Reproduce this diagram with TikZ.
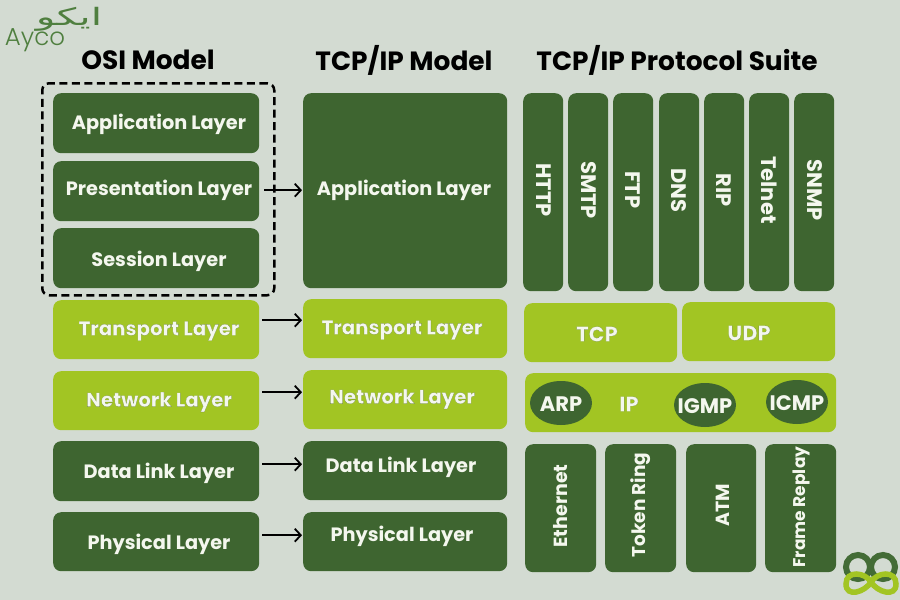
\documentclass[tikz,border=0pt]{standalone}
\usepackage{fontspec}
\setmainfont{Poppins}
\newfontfamily\logofont{Poppins Light}
\newfontfamily\arabicfont[Script=Arabic,FakeStretch=1.7]{DejaVu Sans}
\newfontface\outlfont{Poppins Bold}[FakeBold=0.5]
\TeXXeTstate=1
\usetikzlibrary{arrows.meta,calc}
\definecolor{bgc}{HTML}{D3DBD2}
\definecolor{darkg}{HTML}{3E6530}
\definecolor{lightg}{HTML}{A2C523}
\definecolor{logog}{HTML}{4F7F3F}
\definecolor{txt}{HTML}{F4F7EE}
\newcommand{\outl}[1]{\special{pdf:code 0.40 0.47 0.30 RG}#1}
\tikzset{
  panel/.style={draw=none,inner sep=0pt,rounded corners=8pt},
  darkbox/.style={panel,fill=darkg},
  lightbox/.style={panel,fill=lightg},
  lab/.style={text=txt,font=\bfseries\fontsize{19.3}{22}\selectfont,inner sep=0pt},
  lablight/.style={text=txt,font=\outlfont\fontsize{19.8}{22}\selectfont,inner sep=0pt},
  proto/.style={text=txt,font=\bfseries\fontsize{21}{24}\selectfont,inner sep=0pt},
  protolight/.style={text=txt,font=\outlfont\fontsize{21}{24}\selectfont,inner sep=0pt},
  protosmall/.style={text=txt,font=\bfseries\fontsize{19}{22}\selectfont,inner sep=0pt},
  head/.style={text=black,font=\bfseries\fontsize{26.4}{30}\selectfont,inner sep=0pt},
  link/.style={-{Straight Barb[length=6pt,width=13pt]},line width=1.8pt,black},
  group/.style={draw=black,dashed,dash pattern=on 8pt off 4.5pt,line width=2.5pt,rounded corners=7pt},
  ringd/.style={draw=logog!85!black,line width=6pt},
  ringl/.style={draw=lightg,line width=5.5pt}
}
\newcommand{\bx}[7]{\node[#6,minimum width=#4pt-#2pt,minimum height=#5pt-#3pt,anchor=north west] (#1) at (#2,#3) {};}
\begin{document}
\begin{tikzpicture}[x=1pt,y=-1pt]
\useasboundingbox (0,0) rectangle (900,600);
\fill[bgc] (0,0) rectangle (900,600);
% headings
\node[head] (h1) at (148,60) {OSI Model};
\node[head] (h2) at (404,60) {TCP/IP Model};
\node[head] (h3) at (677,60) {TCP/IP Protocol Suite};
% OSI column
\bx{oa}{53}{93}{259}{153}{darkbox}{}
\bx{op}{53}{161}{259}{221}{darkbox}{}
\bx{os}{53}{228}{259}{288}{darkbox}{}
\bx{ot}{53}{300}{259}{359}{lightbox}{}
\bx{on}{53}{371}{259}{430}{lightbox}{}
\bx{od}{53}{441}{259}{501}{darkbox}{}
\bx{oh}{53}{512}{259}{571}{darkbox}{}
\node[lab] (oal) at (159,124) {Application Layer};
\node[lab] (opl) at (159,190) {Presentation Layer};
\node[lab] (osl) at (159,261) {Session Layer};
\node[lablight] (otl) at (159,331) {\outl{Transport Layer}};
\node[lablight] (onl) at (159,402) {\outl{Network Layer}};
\node[lab] (odl) at (159,473) {Data Link Layer};
\node[lab] (ohl) at (159,544) {Physical Layer};
\node[group,minimum width=232pt,minimum height=212pt,anchor=north west,inner sep=0pt] (grp) at (41,82) {};
% TCP/IP column
\bx{ta}{303}{93}{507}{288}{darkbox}{}
\bx{tt}{303}{299}{507}{358}{lightbox}{}
\bx{tn}{303}{370}{507}{429}{lightbox}{}
\bx{td}{303}{441}{507}{500}{darkbox}{}
\bx{th}{303}{512}{507}{571}{darkbox}{}
\node[lab] (tal) at (404,190) {Application Layer};
\node[lablight] (ttl) at (402,330) {\outl{Transport Layer}};
\node[lablight] (tnl) at (402,399) {\outl{Network Layer}};
\node[lab] (tdl) at (401,467) {Data Link Layer};
\node[lab] (thl) at (402,536) {Physical Layer};
% connectors
\draw[link] ([shift={(5,-1)}]op.east) -- ([shift={(-1,-1)}]op.east -| ta.west);
\draw[link] ([shift={(3,-9.5)}]ot.east) -- ([shift={(-1,-9.5)}]ot.east -| tt.west);
\draw[link] ([shift={(3,-8.5)}]on.east) -- ([shift={(-1,-8.5)}]on.east -| tn.west);
\draw[link] ([shift={(3,-7)}]od.east) -- ([shift={(-1,-7)}]od.east -| td.west);
\draw[link] ([shift={(3,-6.5)}]oh.east) -- ([shift={(-1,-6.5)}]oh.east -| th.west);
% application protocols
\bx{p1}{523}{93}{563}{291}{darkbox}{}
\bx{p2}{568}{93}{608}{291}{darkbox}{}
\bx{p3}{613}{93}{653}{291}{darkbox}{}
\bx{p4}{659}{93}{699}{291}{darkbox}{}
\bx{p5}{704}{93}{744}{291}{darkbox}{}
\bx{p6}{749}{93}{789}{291}{darkbox}{}
\bx{p7}{794}{93}{834}{291}{darkbox}{}
\node[proto,rotate=-90] (p1l) at (544,190) {HTTP};
\node[proto,rotate=-90] (p2l) at (589,190) {SMTP};
\node[proto,rotate=-90] (p3l) at (633,190) {FTP};
\node[proto,rotate=-90] (p4l) at (679,190) {DNS};
\node[proto,rotate=-90] (p5l) at (724,190) {RIP};
\node[proto,rotate=-90] (p6l) at (769,190) {Telnet};
\node[proto,rotate=-90] (p7l) at (815,190) {SNMP};
% transport protocols
\bx{tcp}{524}{303}{677}{362}{lightbox}{}
\bx{udp}{682}{302}{835}{361}{lightbox}{}
\node[protolight] (tcpl) at (597,334) {\outl{TCP}};
\node[protolight] (udpl) at (749,333) {\outl{UDP}};
% internet protocols
\bx{ip}{525}{373}{836}{432}{lightbox}{}
\draw[draw=none,fill=darkg] (561,403) ellipse [x radius=31,y radius=22];
\draw[draw=none,fill=darkg] (705,405) ellipse [x radius=31,y radius=22];
\draw[draw=none,fill=darkg] (797,402) ellipse [x radius=31,y radius=22];
\node[proto] (arp) at (561,404) {ARP};
\node[protolight] (ipl) at (629,404) {\outl{IP}};
\node[proto] (igmp) at (705,406) {IGMP};
\node[proto] (icmp) at (797,403) {ICMP};
% link protocols
\bx{l1}{525}{444}{596}{572}{darkbox}{}
\bx{l2}{605}{444}{676}{572}{darkbox}{}
\bx{l3}{686}{444}{756}{572}{darkbox}{}
\bx{l4}{765}{444}{836}{572}{darkbox}{}
\node[protosmall,rotate=90] (l1l) at (561,506) {Ethernet};
\node[protosmall,font=\bfseries\fontsize{18.5}{22}\selectfont,rotate=90] (l2l) at (641,505) {Token Ring};
\node[protosmall,rotate=90] (l3l) at (723,505) {ATM};
\node[protosmall,rotate=90,font=\bfseries\fontsize{17}{20}\selectfont] (l4l) at (801,507) {Frame Replay};
% logo text
\node[text=logog,font=\logofont\fontsize{24.5}{26}\selectfont,inner sep=0pt] (ayco) at (35,40) {Ayco};
\node[text=logog,font=\arabicfont\fontsize{24}{26}\selectfont,inner sep=0pt] (ayfa) at (69,19) {\beginR ایکو\endR};
% ring logo
\draw[ringd] (858,567) circle [radius=12];
\draw[ringd] (883,567) circle [radius=12];
\draw[ringl] (871,582) .. controls (877,572) and (896,570) .. (896,584) .. controls (896,598) and (877,592) .. (871,582) .. controls (865,572) and (846,570) .. (846,584) .. controls (846,598) and (865,592) .. (871,582) -- cycle;
\end{tikzpicture}
\end{document}
